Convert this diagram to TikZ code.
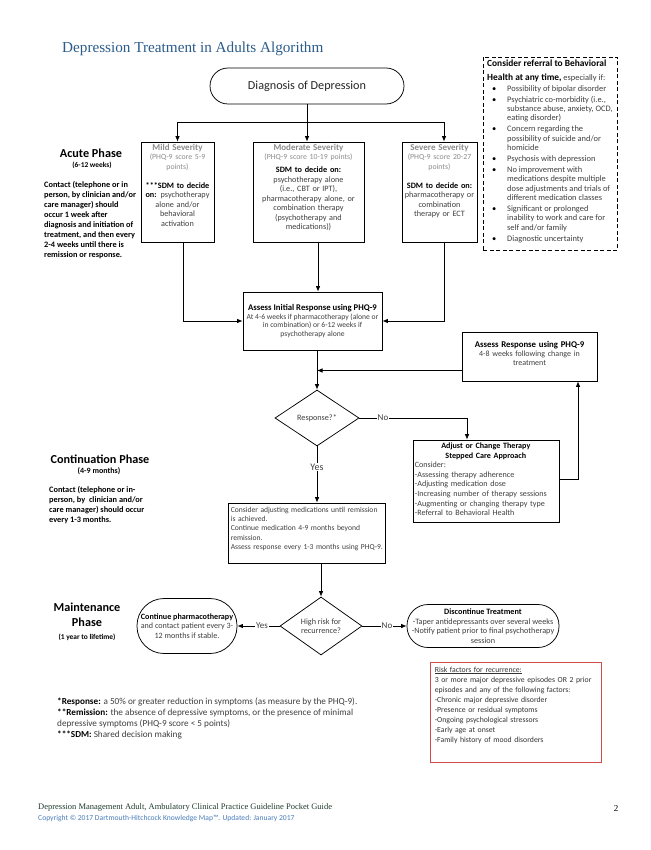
\documentclass[tikz,border=0pt]{standalone}
\usepackage{fontspec}
\setmainfont{Carlito}
\newfontfamily\serifont{Liberation Serif}
\usetikzlibrary{shapes.geometric,arrows.meta}
\definecolor{titleblue}{HTML}{2B5C8A}
\definecolor{bodygray}{HTML}{3F3F3F}
\definecolor{sevgray}{HTML}{8C8C8C}
\definecolor{riskred}{HTML}{D24B4B}
\definecolor{copyblue}{HTML}{4A7EBB}
\definecolor{footgreen}{HTML}{1E3B2C}
\newcommand{\blt}{\hspace{5pt}\textcolor{black}{\textbullet}}
\tikzset{
  shapebox/.style={draw, line width=0.75pt, inner sep=0pt},
  boxtext/.style={inner sep=0pt, text=bodygray, font=\fontsize{8.2}{9.5}\selectfont},
  arr/.style={-{Latex[length=5.5pt,width=4.5pt]}, line width=0.75pt},
  ln/.style={line width=0.75pt},
  lab/.style={fill=white, inner sep=1pt, text=bodygray, font=\fontsize{9}{10}\selectfont},
  phasehead/.style={font=\bfseries\fontsize{12.2}{14}\selectfont, align=center, inner sep=0pt},
  phasesub/.style={font=\bfseries\fontsize{7.4}{9}\selectfont, inner sep=0pt},
  phasepara/.style={font=\bfseries\fontsize{8.3}{10}\selectfont, align=left, anchor=north west, inner sep=0pt},
  decision/.style={draw, shape=diamond, line width=0.75pt, inner sep=0pt, align=center, text=bodygray, font=\fontsize{8.2}{9.6}\selectfont},
}
\newcommand{\sevtitle}[1]{{\fontsize{9}{9.5}\selectfont\bfseries\textcolor{sevgray}{#1}}}
\newcommand{\phq}[1]{{\fontsize{7.8}{9.5}\selectfont\textcolor{sevgray}{#1}}}
\begin{document}
\begin{tikzpicture}[x=1pt,y=-1pt]
\useasboundingbox (0,0) rectangle (650,850);
\fill[white] (0,0) rectangle (650,850);

% title
\node[anchor=base west, inner sep=0pt, text=titleblue, font=\serifont\fontsize{15.2}{17}\selectfont] (title) at (62,53) {Depression Treatment in Adults Algorithm};

% diagnosis
\node[shapebox, rounded corners=18pt, minimum width=194pt, minimum height=36pt, font=\fontsize{12.2}{14}\selectfont, text=black!85] (diag) at (307,86) {Diagnosis of Depression};

% severity boxes
\node[shapebox, minimum width=73pt, minimum height=100pt] (mild) at (177.5,192) {};
\node[boxtext, anchor=north, text width=73pt, align=center] (mildtxt) at ([yshift=-2pt]mild.north) {\sevtitle{Mild Severity}\\ \phq{(PHQ-9 score 5-9}\\ \phq{points)}\\[9.5pt] \textbf{\textcolor{black}{***SDM to decide}}\\ \textbf{\textcolor{black}{on:}} psychotherapy\\ alone and/or\\ behavioral\\ activation};

\node[shapebox, minimum width=111pt, minimum height=100pt] (mod) at (308.5,192) {};
\node[boxtext, anchor=north, text width=111pt, align=center] (modtxt) at ([yshift=-2pt]mod.north) {\sevtitle{Moderate Severity}\\ \phq{(PHQ-9 score 10-19 points)}\\[3.5pt] \textbf{\textcolor{black}{SDM to decide on:}}\\ psychotherapy alone\\ (i.e., CBT or IPT),\\ pharmacotherapy alone, or\\ combination therapy\\ (psychotherapy and\\ medications))};

\node[shapebox, minimum width=75pt, minimum height=100pt] (sev) at (439.5,192) {};
\node[boxtext, anchor=north, text width=75pt, align=center] (sevtxt) at ([yshift=-2pt]sev.north) {\sevtitle{Severe Severity}\\ \phq{(PHQ-9 score 20-27}\\ \phq{points)}\\[9.5pt] \textbf{\textcolor{black}{SDM to decide on:}}\\ pharmacotherapy or\\ combination\\ therapy or ECT};

% assess initial
\node[shapebox, minimum width=139pt, minimum height=58pt, align=center, text=bodygray, font=\fontsize{7.6}{8.8}\selectfont] (ai) at (312.5,321) {{\fontsize{8.7}{9}\selectfont\textbf{\textcolor{black}{Assess Initial Response using PHQ-9}}}\\ At 4-6 weeks if pharmacotherapy (alone or\\ in combination) or 6-12 weeks if\\ psychotherapy alone};

% assess response
\node[shapebox, minimum width=135pt, minimum height=49pt] (ar) at (529.5,356.5) {};
\node[boxtext, anchor=north, text width=135pt, align=center, font=\fontsize{8}{9}\selectfont] (artxt) at ([yshift=-9pt]ar.north) {{\fontsize{8.8}{9}\selectfont\textbf{\textcolor{black}{Assess Response using PHQ-9}}}\\ 4-8 weeks following change in\\ treatment};

% response decision
\node[decision, minimum width=84pt, minimum height=56pt] (resp) at (317,418) {Response?*};

% adjust
\node[shapebox, minimum width=146pt, minimum height=82pt] (adj) at (486,481) {};
\node[boxtext, anchor=north west, text width=142pt, align=left, font=\fontsize{8.1}{9.6}\selectfont] (adjtxt) at ([shift={(2pt,-3pt)}]adj.north west) {\makebox[142pt][c]{\textbf{\textcolor{black}{Adjust or Change Therapy}}}\\ \makebox[142pt][c]{\textbf{\textcolor{black}{Stepped Care Approach}}}\\ Consider:\\ -Assessing therapy adherence\\ -Adjusting medication dose\\ -Increasing number of therapy sessions\\ -Augmenting or changing therapy type\\ -Referral to Behavioral Health};

% continuation
\node[shapebox, minimum width=157pt, minimum height=60pt] (cont) at (306.5,533) {};
\node[boxtext, anchor=north west, text width=153pt, align=left, font=\fontsize{7.6}{9.3}\selectfont] (conttxt) at ([shift={(3pt,-4pt)}]cont.north west) {Consider adjusting medications until remission\\ is achieved.\\ Continue medication 4-9 months beyond\\ remission.\\ Assess response every 1-3 months using PHQ-9.};

% high risk decision
\node[decision, minimum width=82pt, minimum height=58pt] (hr) at (321,626) {High risk for\\ recurrence?};

% continue pharmacotherapy
\node[shapebox, rounded corners=27pt, minimum width=100pt, minimum height=55pt, align=center, text=bodygray, font=\fontsize{8.1}{9.8}\selectfont] (cp) at (187,626) {{\fontsize{8.1}{9.8}\selectfont\textbf{\textcolor{black}{Continue pharmacotherapy}}}\\ and contact patient every 3-\\ 12 months if stable.};

% discontinue
\node[shapebox, rounded corners=21pt, minimum width=152pt, minimum height=43pt, align=center, text=bodygray, font=\fontsize{8.2}{9.6}\selectfont] (dt) at (483,626) {\textbf{\textcolor{black}{Discontinue Treatment}}\\ -Taper antidepressants over several weeks\\ -Notify patient prior to final psychotherapy\\ session};

% risk factors
\node[draw=riskred, line width=0.75pt, minimum width=171pt, minimum height=100pt, inner sep=0pt] (risk) at (515.5,712) {};
\node[boxtext, anchor=north west, text width=165pt, align=left, text=black!80, font=\fontsize{7.75}{10}\selectfont] (risktxt) at ([shift={(5pt,-5pt)}]risk.north west) {\underline{Risk factors for recurrence:}\\ 3 or more major depressive episodes OR 2 prior\\ episodes and any of the following factors:\\ -Chronic major depressive disorder\\ -Presence or residual symptoms\\ -Ongoing psychological stressors\\ -Early age at onset\\ -Family history of mood disorders};

% referral dashed box
\node[draw, line width=0.75pt, dash pattern=on 4pt off 2.5pt, minimum width=134pt, minimum height=193pt, inner sep=0pt] (refbox) at (550,153.5) {};
\node[anchor=base west, inner sep=0pt, text=bodygray, font=\fontsize{8.4}{9.4}\selectfont] (reftxt) at (487,67) {\begin{tabular}[t]{@{}p{20pt}@{}l@{}}
\multicolumn{2}{@{}l@{}}{\fontsize{9.4}{13}\selectfont\bfseries\color{black}Consider referral to Behavioral}\\[3.6pt]
\multicolumn{2}{@{}l@{}}{{\fontsize{9.4}{13}\selectfont\bfseries\color{black}Health at any time,} {\fontsize{8.4}{9.4}\selectfont especially if:}}\\[1.8pt]
\blt & Possibility of bipolar disorder\\[1.5pt]
\blt & Psychiatric co-morbidity (i.e.,\\
 & substance abuse, anxiety, OCD,\\
 & eating disorder)\\[1.5pt]
\blt & Concern regarding the\\
 & possibility of suicide and/or\\
 & homicide\\[1.5pt]
\blt & Psychosis with depression\\[1.5pt]
\blt & No improvement with\\
 & medications despite multiple\\
 & dose adjustments and trials of\\
 & different medication classes\\[1.5pt]
\blt & Significant or prolonged\\
 & inability to work and care for\\
 & self and/or family\\[1.5pt]
\blt & Diagnostic uncertainty
\end{tabular}};

% phases
\node[phasehead] (acute) at (91,153) {Acute Phase};
\node[phasesub] (acutesub) at (92,165) {(6-12 weeks)};
\node[phasepara] (acutepara) at (44,181) {Contact (telephone or in\\ person, by clinician and/or\\ care manager) should\\ occur 1 week after\\ diagnosis and initiation of\\ treatment, and then every\\ 2-4 weeks until there is\\ remission or response.};

\node[phasehead] (contph) at (100,459) {Continuation Phase};
\node[phasesub, font=\bfseries\fontsize{8}{9}\selectfont] (contsub) at (99,471) {(4-9 months)};
\node[phasepara] (contpara) at (49,486) {Contact (telephone or in-\\ person, by\ \ clinician and/or\\ care manager) should occur\\ every 1-3 months.};

\node[phasehead] (maint) at (87,607) {Maintenance};
\node[phasehead] (maint2) at (87,622) {Phase};
\node[phasesub] (maintsub) at (87,637) {(1 year to lifetime)};

% connectors
\coordinate (split) at (307,122);
\draw[ln] (diag.south) -- (split);
\draw[arr] (split) -| (mild.north);
\draw[arr] (split) -| ([xshift=4.5pt]sev.north);
\draw[arr] (split) -- (split |- mod.north);
\draw[arr] ([xshift=5.5pt]mild.south) |- (ai.west);
\draw[arr] ([xshift=9.5pt]mod.south) -- ([xshift=9.5pt]mod.south |- ai.north);
\draw[arr] ([xshift=4.5pt]sev.south) |- (ai.east);
\draw[arr] (ai.south -| resp.north) -- (resp.north);
\draw[arr] ([yshift=-14pt]ar.west) -- ([yshift=-14pt]ar.west -| resp.north);
\coordinate (nocorner) at (467,418);
\draw[arr] (resp.east) -- (nocorner) -- (nocorner |- adj.north);
\coordinate (upcorner) at (578,479);
\draw[arr] (adj.east |- upcorner) -- (upcorner) -- (upcorner |- ar.south);
\draw[arr] (resp.south) -- (resp.south |- cont.north);
\draw[arr] (cont.south -| hr.north) -- (hr.north);
\draw[arr] (hr.west) -- (cp.east);
\draw[arr] (hr.east) -- (dt.west);

% labels
\node[lab] (no1) at (383,418) {No};
\node[lab, font=\fontsize{10}{11}\selectfont] (yes1) at (317,467) {Yes};
\node[lab] (yes2) at (262,626) {Yes};
\node[lab] (no2) at (387,626) {No};

% footnotes
\node[anchor=north west, inner sep=0pt, align=left, text=bodygray, font=\fontsize{9.2}{10.7}\selectfont] (notes) at (57,698) {\textbf{\textcolor{black}{*Response:}} a 50\% or greater reduction in symptoms (as measure by the PHQ-9).\\ \textbf{\textcolor{black}{**Remission:}} the absence of depressive symptoms, or the presence of minimal\\ depressive symptoms (PHQ-9 score < 5 points)\\ \textbf{\textcolor{black}{***SDM:}} Shared decision making};

% footer
\node[anchor=base west, inner sep=0pt, text=footgreen, font=\serifont\fontsize{8.5}{10}\selectfont] (foot) at (38,809) {Depression Management Adult, Ambulatory Clinical Practice Guideline Pocket Guide};
\node[anchor=base west, inner sep=0pt, text=copyblue, font=\fontsize{7.6}{9}\selectfont] (copy) at (38,820) {Copyright © 2017 Dartmouth-Hitchcock Knowledge Map™. Updated: January 2017};
\node[anchor=base, inner sep=0pt, font=\serifont\fontsize{9}{10}\selectfont] (pg) at (616,811) {2};
\end{tikzpicture}
\end{document}
